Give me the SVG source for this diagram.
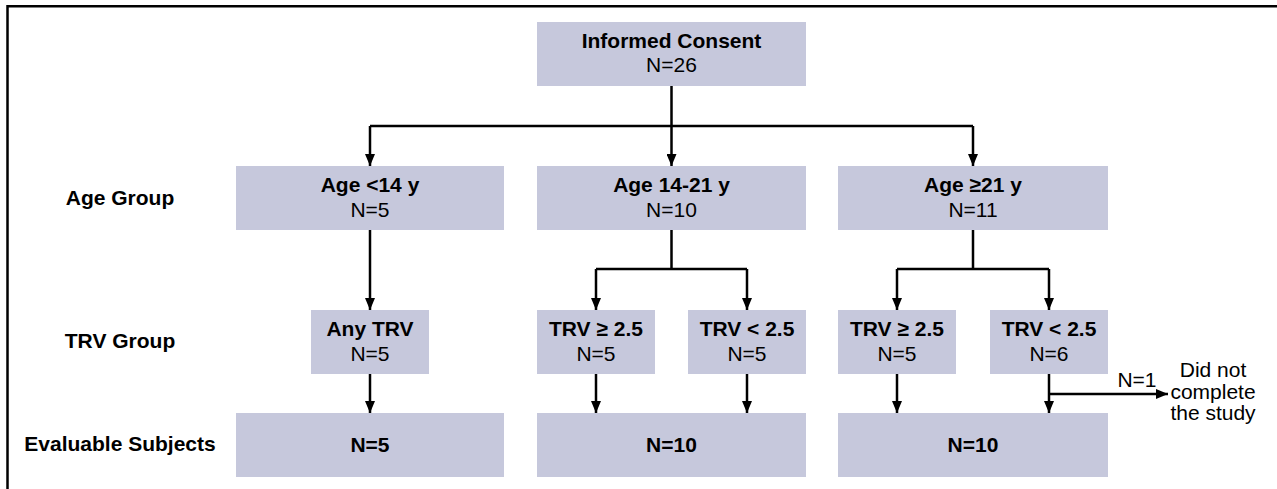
<svg xmlns="http://www.w3.org/2000/svg" width="1277" height="489" viewBox="0 0 1277 489">
<defs>
<marker id="ah" viewBox="0 0 12 10" refX="12" refY="5" markerWidth="12" markerHeight="10" markerUnits="userSpaceOnUse" orient="auto">
<path d="M0,0 L12,5 L0,10 Z" fill="#000"/>
</marker>
<style>
.box{fill:#c6c8dc;}
.t{font-family:"Liberation Sans",Arial,Helvetica,sans-serif;font-size:21px;fill:#000;text-anchor:middle;}
.b{font-weight:bold;}
.ln{fill:none;stroke:#000;stroke-width:2.5;}
.ar{fill:none;stroke:#000;stroke-width:2.5;marker-end:url(#ah);}
</style>
</defs>
<rect width="1277" height="489" fill="#fff"/>
<path d="M7.5,489 V6.2 H1277" fill="none" stroke="#000" stroke-width="2.5"/>

<g id="labels">
<text class="t b" x="120" y="205">Age Group</text>
<text class="t b" x="120" y="348">TRV Group</text>
<text class="t b" x="120" y="451">Evaluable Subjects</text>
</g>

<g id="consent">
<rect class="box" x="537" y="22" width="269" height="64"/>
<text class="t b" x="671.5" y="48">Informed Consent</text>
<text class="t" x="671.5" y="72">N=26</text>
</g>

<g id="age1">
<rect class="box" x="236" y="166" width="268" height="64"/>
<text class="t b" x="370" y="192">Age &lt;14 y</text>
<text class="t" x="370" y="217">N=5</text>
</g>
<g id="age2">
<rect class="box" x="537" y="166" width="269" height="64"/>
<text class="t b" x="671.5" y="192">Age 14-21 y</text>
<text class="t" x="671.5" y="217">N=10</text>
</g>
<g id="age3">
<rect class="box" x="838" y="166" width="270" height="64"/>
<text class="t b" x="973" y="192">Age ≥21 y</text>
<text class="t" x="973" y="217">N=11</text>
</g>

<g id="trv1">
<rect class="box" x="311" y="310" width="118" height="64"/>
<text class="t b" x="370" y="336">Any TRV</text>
<text class="t" x="370" y="361">N=5</text>
</g>
<g id="trv2">
<rect class="box" x="537" y="310" width="118" height="64"/>
<text class="t b" x="596" y="336">TRV ≥ 2.5</text>
<text class="t" x="596" y="361">N=5</text>
</g>
<g id="trv3">
<rect class="box" x="688" y="310" width="118" height="64"/>
<text class="t b" x="747" y="336">TRV &lt; 2.5</text>
<text class="t" x="747" y="361">N=5</text>
</g>
<g id="trv4">
<rect class="box" x="838" y="310" width="118" height="64"/>
<text class="t b" x="897" y="336">TRV ≥ 2.5</text>
<text class="t" x="897" y="361">N=5</text>
</g>
<g id="trv5">
<rect class="box" x="990" y="310" width="118" height="64"/>
<text class="t b" x="1049" y="336">TRV &lt; 2.5</text>
<text class="t" x="1049" y="361">N=6</text>
</g>

<g id="eval1">
<rect class="box" x="236" y="413" width="268" height="64"/>
<text class="t b" x="370" y="452">N=5</text>
</g>
<g id="eval2">
<rect class="box" x="537" y="413" width="269" height="64"/>
<text class="t b" x="671.5" y="452">N=10</text>
</g>
<g id="eval3">
<rect class="box" x="838" y="413" width="270" height="64"/>
<text class="t b" x="973" y="452">N=10</text>
</g>

<g id="dropout">
<text class="t" x="1213" y="377">Did not</text>
<text class="t" x="1213" y="398.5">complete</text>
<text class="t" x="1213" y="420">the study</text>
</g>

<g id="connectors">
<path class="ln" d="M671.5,86 V126 M370,126 H973"/>
<path class="ar" d="M370,126 V166"/>
<path class="ar" d="M671.5,126 V166"/>
<path class="ar" d="M973,126 V166"/>
<path class="ar" d="M370,230 V310"/>
<path class="ln" d="M671.5,230 V269 M596,269 H747"/>
<path class="ar" d="M596,269 V310"/>
<path class="ar" d="M747,269 V310"/>
<path class="ln" d="M973,230 V269 M897,269 H1049"/>
<path class="ar" d="M897,269 V310"/>
<path class="ar" d="M1049,269 V310"/>
<path class="ar" d="M370,374 V413"/>
<path class="ar" d="M596,374 V413"/>
<path class="ar" d="M747,374 V413"/>
<path class="ar" d="M897,374 V413"/>
<path class="ar" d="M1049,374 V413"/>
<path class="ar" d="M1049,394 H1168"/>
<text class="t" x="1137" y="387">N=1</text>
</g>
</svg>
